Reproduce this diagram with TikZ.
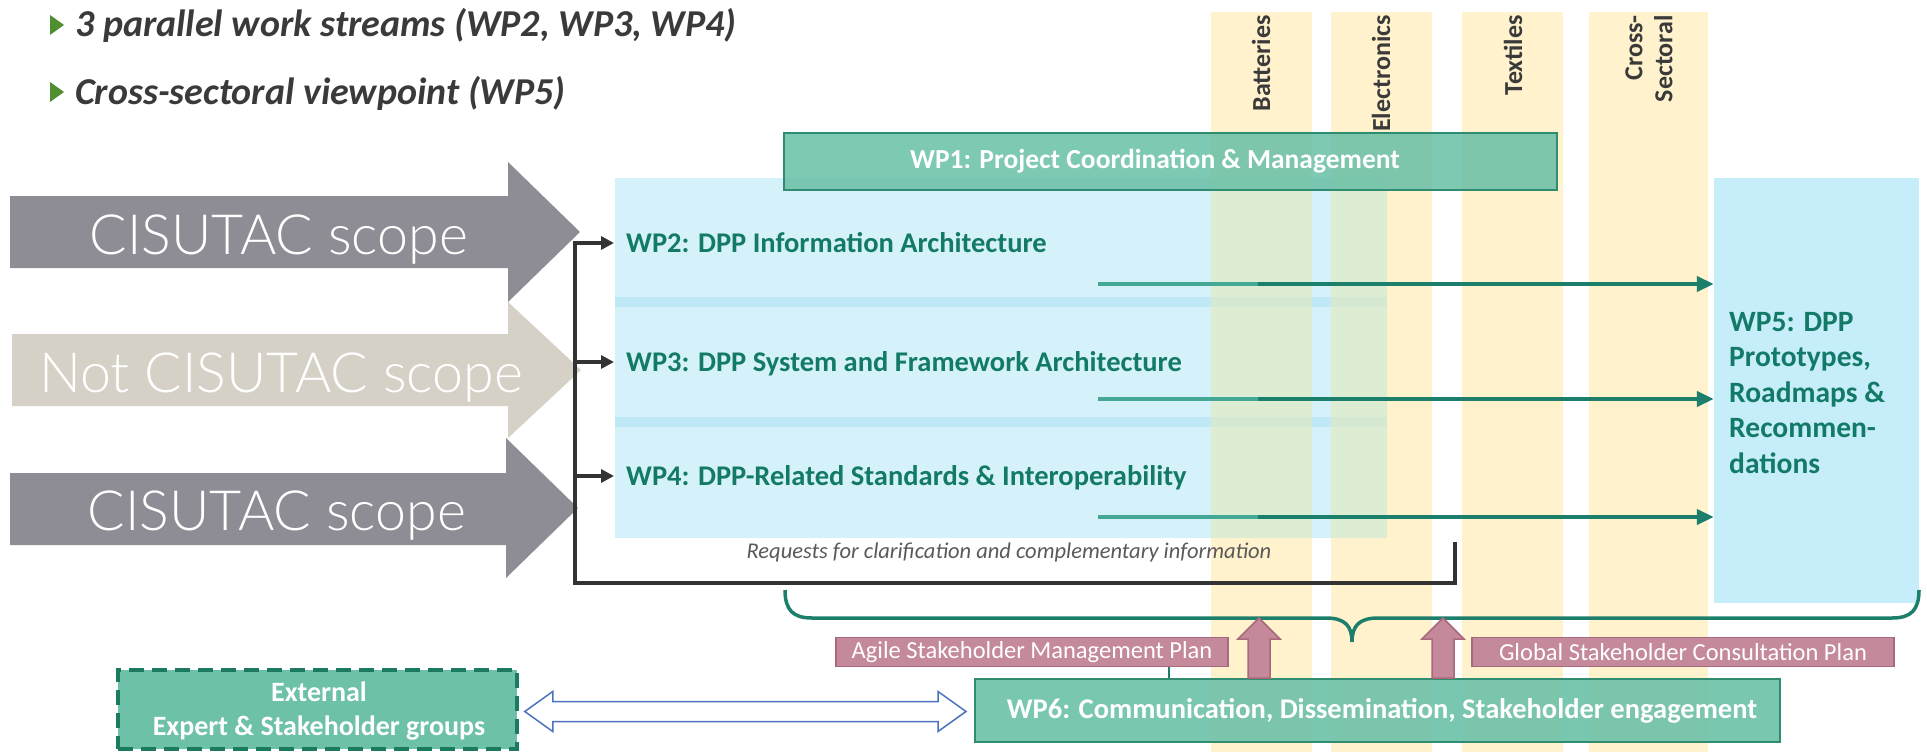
\documentclass[tikz,border=0pt]{standalone}
\usepackage{fontspec}
\setmainfont{Carlito}
\IfFontExistsTF{Lato Light}{\newfontfamily\latof{Lato Light}}{\newfontfamily\latof{Lato}}
\usetikzlibrary{arrows.meta,fit,calc}
\definecolor{arrgray}{HTML}{8E8C95}
\definecolor{arrbeige}{HTML}{D6D1C7}
\definecolor{lblue}{HTML}{D5F2FB}
\definecolor{lbandblue}{HTML}{BEE8F6}
\definecolor{ovlcolor}{HTML}{E2EBC0}
\definecolor{wp5blue}{HTML}{C5EDFA}
\definecolor{colyellow}{HTML}{FFF2CC}
\definecolor{tealfill}{HTML}{6CC1A8}
\definecolor{tealborder}{HTML}{2F8C70}
\definecolor{tealdash}{HTML}{1C7A5E}
\definecolor{tealtext}{HTML}{127A66}
\definecolor{tealline}{HTML}{1B7F6B}
\definecolor{teallight}{HTML}{45A896}
\definecolor{pinkfill}{HTML}{C4899A}
\definecolor{pinkborder}{HTML}{A7697B}
\definecolor{darkline}{HTML}{333333}
\definecolor{bullgreen}{HTML}{4F8F2F}
\definecolor{textgray}{HTML}{3A3A3A}
\definecolor{reqgray}{HTML}{595959}
\definecolor{dblblue}{HTML}{4A72C0}
\tikzset{
  wplabel/.style={font=\bfseries\fontsize{28.5}{34}\selectfont, text=tealtext, anchor=west, inner xsep=12pt, inner ysep=0pt, text height=18pt, text depth=0pt},
  busarrow/.style={draw=darkline, line width=3.5pt, line join=miter, -{Triangle[length=13pt,width=13pt]}},
  flowarrow/.style={draw=tealline, line width=4pt, -{Triangle[length=17pt,width=15pt]}},
  flowfade/.style={draw=teallight, line width=4pt},
  collabel/.style={font=\bfseries\fontsize{26}{30}\selectfont, text=textgray, rotate=90, anchor=east, inner sep=0pt, align=right},
  pinklabel/.style={fill=pinkfill, draw=pinkborder, line width=1.5pt, text=white, font=\fontsize{24.5}{28}\selectfont, minimum height=29pt, inner sep=0pt},
  pinkarrow/.style={fill=pinkfill, draw=pinkborder, line width=1.5pt},
  tealbox/.style={fill=tealfill, draw=tealborder, line width=2pt, inner sep=0pt},
  scopetext/.style={font=\latof\fontsize{55.5}{60}\selectfont, text=white, anchor=base, inner sep=0pt},
  bullettext/.style={font=\bfseries\itshape\fontsize{38}{44}\selectfont, text=textgray, anchor=base west, inner sep=0pt},
  boxtext/.style={font=\bfseries\fontsize{28.5}{34}\selectfont, text=white},
}
\begin{document}
\begin{tikzpicture}[x=1pt,y=-1pt]
\useasboundingbox (0,0) rectangle (1927,752);
% sector columns
\fill[colyellow] (1211,12) rectangle (1312,752);
\fill[colyellow] (1331,12) rectangle (1432,752);
\fill[colyellow] (1462,12) rectangle (1563,752);
\fill[colyellow] (1589,12) rectangle (1708,752);
\node[collabel] (lbat) at (1261,15) {Batteries};
\node[collabel] (lele) at (1381,15) {Electronics};
\node[collabel] (ltex) at (1513,15) {Textiles};
\node[collabel] (lcro) at (1649,15) {Cross-\\Sectoral};
% work package area
\node[fit={(615,178)(1387,538)}, fill=lblue, inner sep=0pt] (wpbox) {};
\fill[lbandblue] (615,297) rectangle (1387,307);
\fill[lbandblue] (615,417) rectangle (1387,427);
\begin{scope}
\clip (615,178) rectangle (1387,538);
\fill[ovlcolor, fill opacity=0.65] (1211,178) rectangle (1312,538);
\fill[ovlcolor, fill opacity=0.65] (1331,178) rectangle (1432,538);
\end{scope}
\node[fit={(1714,178)(1919,603)}, fill=wp5blue, inner sep=0pt] (wp5) {};
\node[font=\bfseries\fontsize{29.5}{35.5}\selectfont, text=tealtext, align=left, anchor=west, inner sep=0pt] (wp5t) at (1729,393) {WP5: DPP\\Prototypes,\\Roadmaps \&\\Recommen-\\dations};
% WP1
\node[tealbox, fill opacity=0.88, fit={(784,133)(1557,190)}] (wp1) {};
\node[boxtext, font=\bfseries\fontsize{27.5}{32}\selectfont] (wp1t) at (1155,161) {WP1: Project Coordination \& Management};
% big arrows
\fill[arrgray] (10,196) -- (508,196) -- (508,162) -- (580,232) -- (508,302) -- (508,268) -- (10,268) -- cycle;
\fill[arrbeige] (12,334) -- (508,334) -- (508,302) -- (581,370) -- (508,438) -- (508,406) -- (12,406) -- cycle;
\fill[arrgray] (10,473) -- (506,473) -- (506,438) -- (578,508) -- (506,578) -- (506,545) -- (10,545) -- cycle;
\node[scopetext] (s1) at (279,254) {CISUTAC scope};
\node[scopetext] (s2) at (281,392) {Not CISUTAC scope};
\node[scopetext] (s3) at (277,530) {CISUTAC scope};
% WP2-4
\node[wplabel] (wp2) at (614,243) {WP2: DPP Information Architecture};
\node[wplabel] (wp3) at (614,362) {WP3: DPP System and Framework Architecture};
\node[wplabel] (wp4) at (614,476) {WP4: DPP-Related Standards \& Interoperability};
\coordinate (b2) at (575,243);
\coordinate (bb) at (575,583);
\coordinate (br) at (1455,583);
\coordinate (bt) at (1455,542);
\draw[busarrow] (bt) -- (br) -- (bb) -- (b2) -- (wp2.west);
\draw[busarrow] (b2 |- wp3.west) -- (wp3.west);
\draw[busarrow] (b2 |- wp4.west) -- (wp4.west);
\node[font=\itshape\fontsize{22.5}{27}\selectfont, text=reqgray] (req) at (1009,552) {Requests for clarification and complementary information};
% flows to WP5
\coordinate (f2) at (1098,284);
\coordinate (f3) at (1098,399);
\coordinate (f4) at (1098,517);
\draw[flowarrow] (f2) -- (f2 -| wp5.west);
\draw[flowarrow] (f3) -- (f3 -| wp5.west);
\draw[flowarrow] (f4) -- (f4 -| wp5.west);
\draw[flowfade] (f2) -- ++(160,0);
\draw[flowfade] (f3) -- ++(160,0);
\draw[flowfade] (f4) -- ++(160,0);
% brace
\draw[tealline, line width=3.5pt] (785,590) .. controls (785,610) and (793,618) .. (812,618) -- (1326,618) .. controls (1345,618) and (1352,626) .. (1352,642) .. controls (1352,626) and (1359,618) .. (1378,618) -- (1892,618) .. controls (1911,618) and (1919,610) .. (1919,590);
% plans
\node[pinklabel, minimum width=392pt] (agile) at (1032,652) {Agile Stakeholder Management Plan};
\node[pinklabel, minimum width=422pt] (global) at (1683,652) {Global Stakeholder Consultation Plan};
% WP6
\node[tealbox, fill opacity=0.9, fit={(975,679)(1780,742)}] (wp6) {};
\node[boxtext] (wp6t) at (1382,711) {WP6: Communication, Dissemination, Stakeholder engagement};
\coordinate (ax) at (1169,0);
\draw[tealline, line width=2.5pt] (agile.south -| ax) -- (wp6.north -| ax);
\coordinate (pa1) at (1259,0);
\coordinate (pa2) at (1443,0);
\path (wp6.north -| pa1) coordinate (pb1);
\path (wp6.north -| pa2) coordinate (pb2);
\filldraw[pinkarrow] ($(pb1)+(-11,0)$) -- ++(0,-39) -- ++(-10,0) -- ($(pb1)+(0,-60)$) -- ($(pb1)+(21,-39)$) -- ++(-10,0) -- ($(pb1)+(11,0)$) -- cycle;
\filldraw[pinkarrow] ($(pb2)+(-11,0)$) -- ++(0,-39) -- ++(-10,0) -- ($(pb2)+(0,-60)$) -- ($(pb2)+(21,-39)$) -- ++(-10,0) -- ($(pb2)+(11,0)$) -- cycle;
% external
\node[tealbox, draw=tealdash, dash pattern=on 15pt off 8pt, line width=3.5pt, fit={(118,670)(517,749)}] (ext) {};
\node[boxtext, font=\bfseries\fontsize{28}{34}\selectfont, align=center] (extt) at (319,711) {External\\Expert \& Stakeholder groups};
\coordinate (dl) at ($(ext.east)+(6,2)$);
\coordinate (dr) at ($(wp6.west |- ext.east)+(-8,2)$);
\filldraw[fill=white, draw=dblblue, line width=1.5pt] (dl) -- ($(dl)+(28,-20)$) -- ($(dl)+(28,-10)$) -- ($(dr)+(-28,-10)$) -- ($(dr)+(-28,-20)$) -- (dr) -- ($(dr)+(-28,20)$) -- ($(dr)+(-28,10)$) -- ($(dl)+(28,10)$) -- ($(dl)+(28,20)$) -- cycle;
% bullets
\fill[bullgreen] (50,15) -- (64,25) -- (50,35) -- cycle;
\node[bullettext] (t1) at (75,37) {3 parallel work streams (WP2, WP3, WP4)};
\fill[bullgreen] (50,82) -- (64,92) -- (50,102) -- cycle;
\node[bullettext] (t2) at (75,104) {Cross-sectoral viewpoint (WP5)};
\end{tikzpicture}
\end{document}
